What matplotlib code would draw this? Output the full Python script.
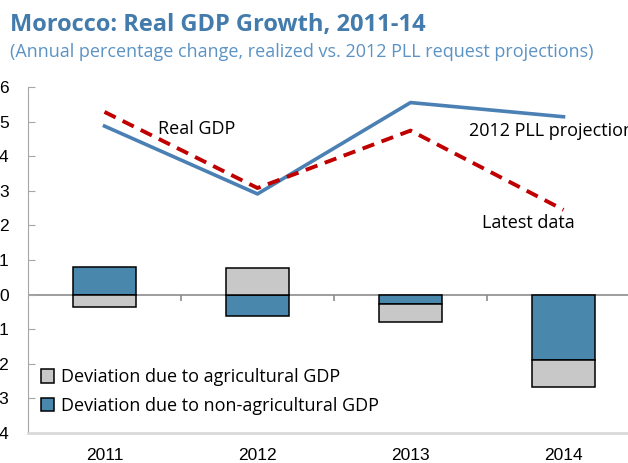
import matplotlib
matplotlib.use("Agg")
import matplotlib.pyplot as plt
import numpy as np

years = ["2011", "2012", "2013", "2014"]
real_gdp = [5.28, 3.08, 4.74, 2.45]
pll_projection = [4.87, 2.91, 5.55, 5.14]
dev_agri = [-0.35, 0.78, -0.52, -0.78]
dev_nonagri = [0.81, -0.61, -0.26, -1.88]

BLUE = "#4a87ad"
GREY = "#c8c8c8"
RED = "#c00000"
LINE_BLUE = "#4a80b4"

fig = plt.figure(figsize=(6.28, 4.63), dpi=100)
ax = fig.add_axes([28 / 628, 30 / 463, 612 / 628, 346 / 463])

x = np.arange(len(years))
w = 0.41

# stack non-agricultural first, positive and negative parts separately
pos = np.zeros(len(x))
neg = np.zeros(len(x))
series = [(dev_nonagri, BLUE, "Deviation due to non-agricultural GDP"),
          (dev_agri, GREY, "Deviation due to agricultural GDP")]
handles = {}
for vals, col, lab in series:
    vals = np.array(vals)
    bottom = np.where(vals >= 0, pos, neg)
    b = ax.bar(x, vals, w, bottom=bottom, color=col, edgecolor="black",
               linewidth=1.1, label=lab, zorder=2)
    handles[lab] = b
    pos = pos + np.where(vals >= 0, vals, 0)
    neg = neg + np.where(vals < 0, vals, 0)

ax.plot(x, pll_projection, color=LINE_BLUE, lw=2.6, zorder=3)
ax.plot(x, real_gdp, color=RED, lw=2.8, ls=(0, (3.2, 2)), zorder=4)

ax.axhline(0, color="#8c8c8c", lw=1.2, zorder=1)
ax.vlines(np.arange(len(x) + 1) - 0.5, 0, -0.18, color="#8c8c8c", lw=1.2)

txt = dict(fontsize=13, family="Open Sans", color="black")
ax.text(0.35, 4.78, "Real GDP", va="center", **txt)
ax.text(2.38, 4.74, "2012 PLL projection", va="center", **txt)
ax.text(2.47, 2.08, "Latest data", va="center", **txt)

ax.set_xlim(-0.5, 3.5)
ax.set_ylim(-4, 6)
ax.set_yticks(range(-4, 7))
ax.set_xticks(x)
ax.set_xticklabels(years)
ax.tick_params(axis="x", length=0, pad=11, labelsize=12.5)
ax.tick_params(axis="y", direction="in", length=5, color="#a6a6a6",
               pad=14, labelsize=12.5)
for lbl in ax.get_xticklabels() + ax.get_yticklabels():
    lbl.set_family("Liberation Sans")

ax.spines["top"].set_visible(False)
ax.spines["right"].set_visible(False)
ax.spines["left"].set_color("#a6a6a6")
ax.spines["bottom"].set_color("#d9d9d9")
ax.spines["bottom"].set_linewidth(2)

leg = ax.legend([handles["Deviation due to agricultural GDP"],
                 handles["Deviation due to non-agricultural GDP"]],
                ["Deviation due to agricultural GDP",
                 "Deviation due to non-agricultural GDP"],
                loc="lower left", bbox_to_anchor=(0.0, 0.015), frameon=False,
                handlelength=0.75, handleheight=0.75, handletextpad=0.4,
                labelspacing=0.6, borderaxespad=0.3,
                prop={"family": "Open Sans", "size": 13})

fig.text(10 / 628, 1 - 31 / 463, "Morocco: Real GDP Growth, 2011-14",
         fontsize=17, fontweight="bold", family="Open Sans", color="#427bac",
         va="baseline")
fig.text(10 / 628, 1 - 57 / 463,
         "(Annual percentage change, realized vs. 2012 PLL request projections)",
         fontsize=13, family="Open Sans", color="#5b93c4", va="baseline")

fig.savefig("out.png", dpi=100)
